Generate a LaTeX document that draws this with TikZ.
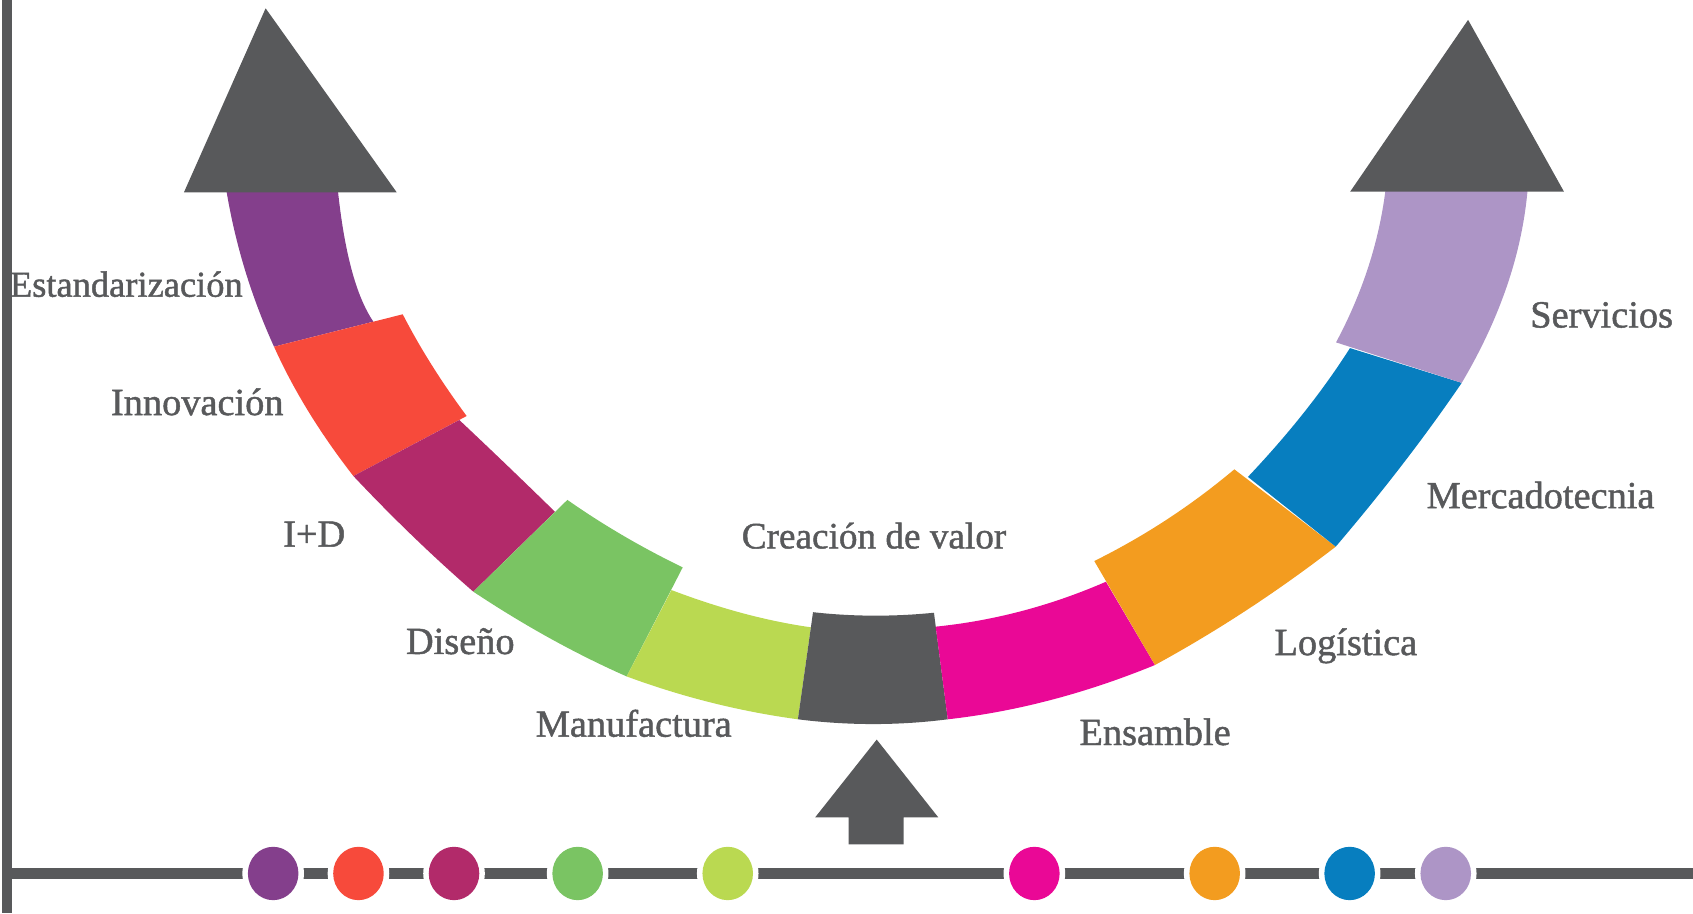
\documentclass[tikz,border=0pt]{standalone}
\usepackage{fontspec}
\setmainfont{Liberation Serif}
\newfontfamily\lblfont[FakeBold=1.2]{Liberation Serif}
\definecolor{dgray}{HTML}{58595B}
\definecolor{cpurple}{HTML}{843F8C}
\definecolor{cred}{HTML}{F74A3B}
\definecolor{crasp}{HTML}{B22A6A}
\definecolor{cgreen}{HTML}{7AC463}
\definecolor{clime}{HTML}{BAD951}
\definecolor{cpink}{HTML}{EA0896}
\definecolor{corange}{HTML}{F39C1F}
\definecolor{cblue}{HTML}{077EBF}
\definecolor{clav}{HTML}{AD95C6}
\begin{document}
\begin{tikzpicture}[x=0.01cm,y=-0.01cm,
  lbl/.style={text=dgray, font=\lblfont\fontsize{10.1}{12}\selectfont, inner sep=0pt, anchor=base},
]
\useasboundingbox (0,0) rectangle (1568,846);

% axes
\fill[dgray] (1.5,0) rectangle (11,846);
\fill[dgray] (11,804) rectangle (1568,814);

% dots on the axis
\foreach \x/\c in {253/cpurple,332/cred,420.5/crasp,535/cgreen,674/clime,958/cpink,1125/corange,1250/cblue,1339/clav}{
  \fill[white] (\x,809) ellipse [x radius=0.285cm, y radius=0.3cm];
  \fill[\c] (\x,809) ellipse [x radius=0.234cm, y radius=0.247cm];
}

% band segments (outer edge, then inner edge back)
\fill[cpurple] (209.6,176) .. controls (217.93,226.3) and (232.67,274.67) .. (253.8,321.1)
  -- (345.8,297.9) .. controls (329.97,274.67) and (319,234.03) .. (312.9,176) -- cycle;
\fill[cred] (253.8,321.1) .. controls (271.7,361.03) and (296.2,400.97) .. (327.3,440.9)
  -- (432.2,385.3) .. controls (408.73,353.63) and (389,322.23) .. (373,291.1) -- cycle;
\fill[crasp] (327.3,440.9) .. controls (364.27,480.13) and (401.3,515.83) .. (438.4,548)
  -- (514,474) .. controls (483.93,444.6) and (454.4,416.27) .. (425.4,389) -- cycle;
\fill[cgreen] (438.4,548) .. controls (485.73,579.43) and (533.07,605.6) .. (580.4,626.5)
  -- (632.3,525.5) .. controls (594.17,507) and (558.57,486.17) .. (525.5,463) -- cycle;
\fill[clime] (580.4,626.5) .. controls (632.33,645.67) and (685.2,658.9) .. (739,666.2)
  -- (751,581) .. controls (710.03,575.17) and (667,563.67) .. (621.9,546.5) -- cycle;
\fill[dgray] (739,666.2) .. controls (785.67,672.07) and (831.93,672.07) .. (877.8,666.2)
  -- (865,567.5) .. controls (827.27,571.27) and (789.93,571.1) .. (753,567) -- cycle;
\fill[cpink] (877.8,666.2) .. controls (941.17,659.1) and (1005.13,642.33) .. (1069.7,615.9)
  -- (1024.3,538.8) .. controls (973.13,561.07) and (920.57,574.93) .. (866.6,580.4) -- cycle;
\fill[corange] (1069.7,615.9) .. controls (1127.23,584.57) and (1183.03,548.03) .. (1237.1,506.3)
  -- (1143.2,434.7) .. controls (1103.5,468.13) and (1060.27,496.43) .. (1013.5,519.6) -- cycle;
\fill[cblue] (1237.1,506.3) .. controls (1281.27,454.47) and (1320.17,403.9) .. (1353.8,354.6)
  -- (1250.3,322.4) .. controls (1225.27,361.83) and (1193.77,401.6) .. (1155.8,441.7) -- cycle;
\fill[clav] (1353.8,354.6) .. controls (1389.2,294.8) and (1409.53,235.27) .. (1414.8,176)
  -- (1283.2,176) .. controls (1277.13,224.3) and (1261.87,271.33) .. (1237.4,317.1) -- cycle;

% arrow heads
\fill[dgray] (246,7.7) -- (367.4,178.1) -- (170.4,178.1) -- cycle;
\fill[dgray] (1359.7,18.4) -- (1448.5,177.5) -- (1250.5,177.5) -- cycle;

% central up arrow
\fill[dgray] (812,685) -- (869,757) -- (837,757) -- (837,782) -- (786,782) -- (786,757) -- (755,757) -- cycle;

% labels
\node[lbl, font=\lblfont\fontsize{9.6}{12}\selectfont] (estand) at (117,274.8) {Estandarización};
\node[lbl] (innov) at (182.7,384.4) {Innovación};
\node[lbl] (imasd) at (291,506.3) {I+D};
\node[lbl] (diseno) at (426.3,605.7) {Diseño};
\node[lbl] (manuf) at (587,682.3) {Manufactura};
\node[lbl, font=\lblfont\fontsize{9.8}{12}\selectfont] (creacion) at (809.5,507.9) {Creación de valor};
\node[lbl] (ensamble) at (1069.8,690) {Ensamble};
\node[lbl] (logistica) at (1246.5,606.7) {Logística};
\node[lbl] (mercado) at (1426.8,470.7) {Mercadotecnia};
\node[lbl] (servicios) at (1483.4,303.3) {Servicios};
\end{tikzpicture}
\end{document}
